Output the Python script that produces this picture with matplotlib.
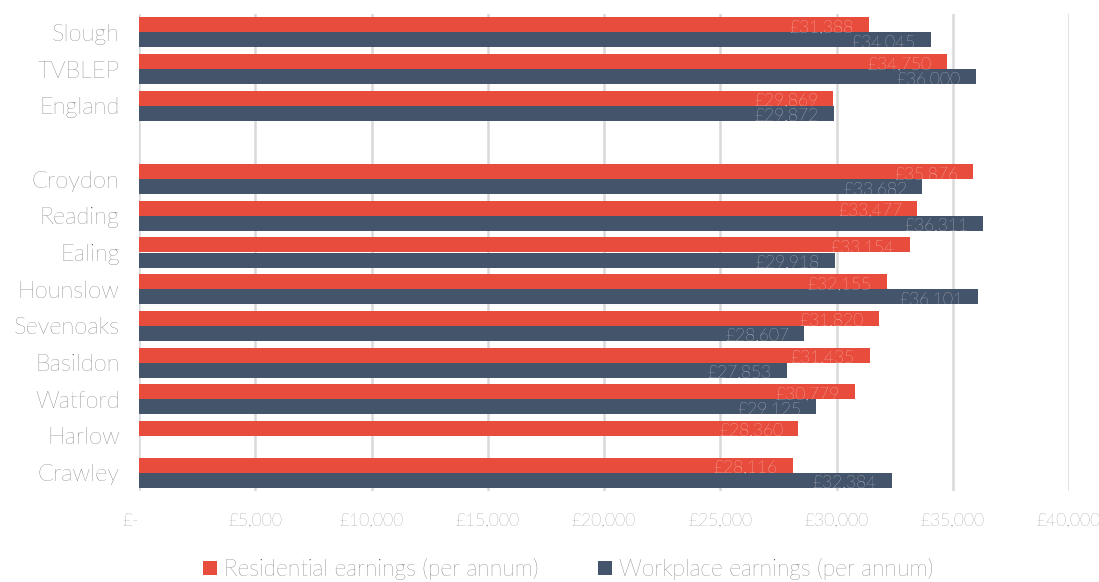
import matplotlib
matplotlib.use("Agg")
import matplotlib.pyplot as plt
import matplotlib.transforms as mtransforms
from matplotlib import font_manager

categories = ["Slough", "TVBLEP", "England", "Croydon", "Reading", "Ealing", "Hounslow",
              "Sevenoaks", "Basildon", "Watford", "Harlow", "Crawley"]
slot = [0, 1, 2, 4, 5, 6, 7, 8, 9, 10, 11, 12]
residential = [31388, 34750, 29869, 35876, 33477, 33154, 32155, 31820, 31435, 30779, 28360, 28116]
workplace = [34045, 36000, 29872, 33682, 36311, 29918, 36101, 28607, 27853, 29125, None, 32384]
xticks = [0, 5000, 10000, 15000, 20000, 25000, 30000, 35000, 40000]
xticklabels = ["£-", "£5,000", "£10,000", "£15,000", "£20,000", "£25,000", "£30,000", "£35,000", "£40,000"]
series_names = ["Residential earnings (per annum)", "Workplace earnings (per annum)"]

RED = "#e84c3d"
DARK = "#44546a"
TXT = "#404040"

avail = {f.name for f in font_manager.fontManager.ttflist}
fam = "Lato" if "Lato" in avail else "DejaVu Sans"
plt.rcParams["font.family"] = [fam, "DejaVu Sans"]
plt.rcParams["font.weight"] = "light"

fig = plt.figure(figsize=(10.99, 5.82), dpi=100)
ax = fig.add_axes([139 / 1099, 1 - 491 / 582, (1069 - 139) / 1099, (491 - 14) / 582])

h = 0.41
for name, vals, col, off in [(series_names[0], residential, RED, -h / 2),
                             (series_names[1], workplace, DARK, h / 2)]:
    ys = [s + off for s, v in zip(slot, vals) if v is not None]
    xs = [v for v in vals if v is not None]
    ax.barh(ys, xs, height=h, color=col, label=name, zorder=3)
    for y, x in zip(ys, xs):
        ax.text(x, y + 0.08, f"£{x:,}", ha="right", va="center", color="white",
                fontsize=12.5, fontweight="light", zorder=4,
                transform=ax.transData + mtransforms.ScaledTranslation(-15 / 100, 0, fig.dpi_scale_trans))

ax.set_xlim(0, 40000)
ax.set_ylim(12.5, -0.5)
ax.set_yticks(slot)
ax.set_yticklabels(categories, fontsize=17, color=TXT)
ax.set_xticks(xticks)
ax.set_xticklabels(xticklabels, fontsize=12.5, color="#595959")
ax.tick_params(axis="y", length=0, pad=14)
ax.tick_params(axis="x", length=0, pad=16)
lbl0 = ax.get_xticklabels()[0]
lbl0.set_transform(lbl0.get_transform() + mtransforms.ScaledTranslation(-8 / 100, 0, fig.dpi_scale_trans))
for s in ax.spines.values():
    s.set_visible(False)
ax.grid(axis="x", color="#d9d9d9", linewidth=1.8, zorder=0)
ax.set_axisbelow(True)

leg = fig.legend(loc="center", bbox_to_anchor=(568 / 1099, 1 - 569 / 582), ncol=2, frameon=False,
                 fontsize=16.5, handlelength=0.6, handleheight=0.6, handletextpad=0.3,
                 columnspacing=2.6, labelcolor=TXT)

fig.savefig("out.png", dpi=100)
